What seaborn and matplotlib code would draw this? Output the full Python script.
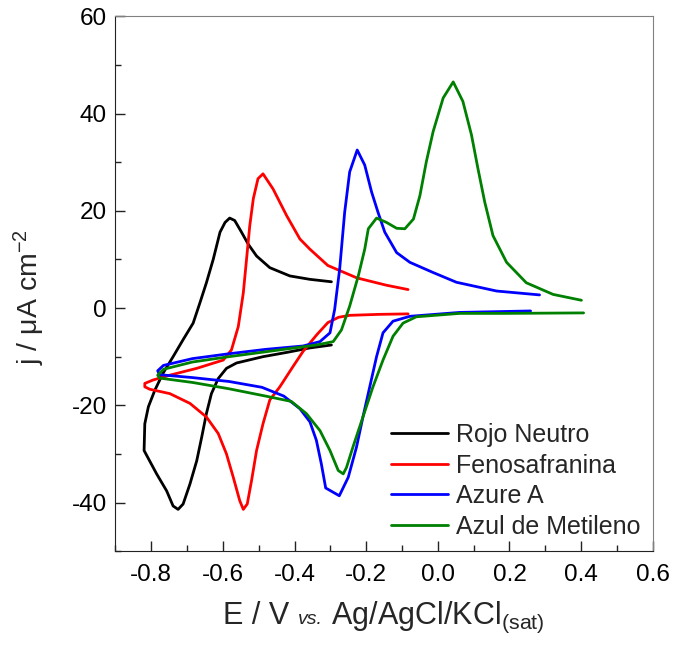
import matplotlib
matplotlib.use('Agg')
import matplotlib.pyplot as plt
from matplotlib.ticker import MultipleLocator, AutoMinorLocator
from matplotlib.offsetbox import TextArea, HPacker, AnchoredOffsetbox
import seaborn as sns

rojo_E = [-0.297, -0.357, -0.42, -0.488, -0.562, -0.590, -0.613, -0.632, -0.646, -0.659,
          -0.673, -0.692, -0.711, -0.725, -0.739, -0.757, -0.785, -0.820, -0.818, -0.808,
          -0.790, -0.767, -0.739, -0.711, -0.683, -0.664, -0.646, -0.627, -0.608, -0.594,
          -0.581, -0.567, -0.548, -0.529, -0.506, -0.469, -0.413, -0.357, -0.297]
rojo_j = [-7.6, -8.2, -9.1, -10.0, -11.3, -12.4, -14.5, -17.6, -21.7, -26.5,
          -31.4, -36.2, -40.3, -41.4, -40.7, -37.6, -34.1, -29.3, -23.8, -20.3,
          -16.9, -13.4, -10.0, -6.5, -3.1, 1.1, 5.2, 10.0, 15.6, 17.6,
          18.5, 18.0, 15.6, 13.1, 10.7, 8.3, 6.6, 5.9, 5.4]

feno_E = [-0.083, -0.164, -0.246, -0.277, -0.307, -0.338, -0.376, -0.404, -0.441, -0.469,
          -0.488, -0.506, -0.520, -0.532, -0.543, -0.553, -0.571, -0.590, -0.613, -0.646,
          -0.692, -0.748, -0.804, -0.818, -0.818, -0.795, -0.748, -0.673, -0.599, -0.576,
          -0.557, -0.543, -0.534, -0.525, -0.515, -0.502, -0.488, -0.460, -0.422, -0.385,
          -0.357, -0.307, -0.226, -0.144, -0.083]
feno_j = [-1.2, -1.3, -1.5, -1.9, -3.0, -5.5, -8.9, -12.0, -16.2, -18.9,
          -23.8, -29.3, -35.5, -40.3, -41.4, -39.6, -34.8, -30.0, -25.8, -22.4,
          -19.6, -17.6, -16.7, -16.2, -15.5, -14.8, -13.8, -12.4, -10.7, -8.6,
          -3.8, 3.1, 10.0, 16.9, 22.5, 26.6, 27.6, 24.5, 19.0, 14.2,
          12.1, 8.75, 6.2, 4.7, 3.8]

azure_E = [0.259, 0.061, -0.078, -0.125, -0.153, -0.171, -0.190, -0.209, -0.227, -0.250,
           -0.275, -0.313, -0.325, -0.339, -0.357, -0.385, -0.430, -0.491, -0.583, -0.685,
           -0.777, -0.782, -0.766, -0.685, -0.583, -0.481, -0.376, -0.329, -0.301, -0.288,
           -0.274, -0.260, -0.246, -0.225, -0.204, -0.185, -0.167, -0.148, -0.115, -0.078,
           -0.013, 0.052, 0.164, 0.284]
azure_j = [-0.6, -0.9, -1.7, -2.7, -5.1, -10.0, -16.2, -22.4, -28.6, -34.8,
           -38.6, -37.0, -32.1, -27.2, -23.4, -20.7, -18.1, -16.3, -15.1, -14.3,
           -13.7, -12.9, -11.8, -10.4, -9.4, -8.5, -7.8, -6.9, -5.1, -0.3,
           8.0, 19.7, 28.0, 32.5, 29.4, 23.9, 19.7, 15.6, 11.4, 9.4,
           7.3, 5.3, 3.5, 2.7]

metileno_E = [0.407, 0.183, 0.061, -0.060, -0.097, -0.125, -0.153, -0.181, -0.209, -0.237,
              -0.255, -0.264, -0.278, -0.301, -0.329, -0.367, -0.409, -0.481, -0.583, -0.685,
              -0.777, -0.782, -0.766, -0.685, -0.583, -0.481, -0.339, -0.292, -0.269, -0.246,
              -0.222, -0.204, -0.194, -0.171, -0.143, -0.115, -0.092, -0.068, -0.050, -0.032,
              -0.013, 0.015, 0.043, 0.070, 0.094, 0.112, 0.131, 0.154, 0.192, 0.247,
              0.322, 0.401]
metileno_j = [-1.0, -1.1, -1.1, -1.8, -3.1, -5.8, -10.7, -16.2, -22.4, -28.6,
              -32.8, -34.1, -33.4, -29.3, -25.2, -21.7, -19.2, -18.1, -16.6, -15.3,
              -14.4, -13.8, -12.6, -11.1, -10.0, -9.0, -7.6, -6.9, -4.5, 0.4,
              6.6, 12.1, 16.3, 18.5, 17.6, 16.4, 16.3, 18.3, 23.1, 30.1,
              36.3, 43.2, 46.5, 42.5, 35.6, 28.7, 21.8, 14.9, 9.4, 5.2,
              2.8, 1.6]

nombres = ['Rojo Neutro', 'Fenosafranina', 'Azure A', 'Azul de Metileno']
colores = ['black', '#ff0000', '#0000ff', '#008000']

# ─── ESTILO ───────────────────────────────────────────────────
sns.set_style('ticks')
plt.rcParams['font.family'] = ['Liberation Sans', 'DejaVu Sans']
plt.rcParams['mathtext.fontset'] = 'custom'
plt.rcParams['mathtext.rm'] = 'Liberation Sans'
plt.rcParams['mathtext.it'] = 'Liberation Sans:italic'
plt.rcParams['axes.unicode_minus'] = False

fig = plt.figure(figsize=(6.75, 6.5), dpi=100)
ax = fig.add_axes([0.171, 0.152, 0.796, 0.823])

curvas = [(rojo_E, rojo_j), (feno_E, feno_j), (azure_E, azure_j), (metileno_E, metileno_j)]
for (E, j), nombre, c in zip(curvas, nombres, colores):
    sns.lineplot(x=E, y=j, sort=False, estimator=None, color=c, lw=2.0,
                 label=nombre, ax=ax)

ax.set_xlim(-0.9, 0.6)
ax.set_ylim(-50, 60)
ax.xaxis.set_major_locator(MultipleLocator(0.2))
ax.xaxis.set_minor_locator(AutoMinorLocator(2))
ax.yaxis.set_major_locator(MultipleLocator(20))
ax.yaxis.set_minor_locator(AutoMinorLocator(2))
ax.xaxis.set_major_formatter(plt.FuncFormatter(lambda v, _: f'{v:.1f}'))
ax.tick_params(which='both', direction='in', top=False, right=False, colors='#222222',
               labelcolor='black')
ax.tick_params(which='major', length=7, width=1)
ax.tick_params(which='minor', length=4, width=1)
ax.tick_params(axis='x', labelsize=17.5, pad=9)
ax.tick_params(axis='y', labelsize=17.5, pad=6)

for s in ['left', 'bottom']:
    ax.spines[s].set_color('#222222')
for s in ['top', 'right']:
    ax.spines[s].set_color('#808080')

# Etiqueta X con "vs." más pequeño en cursiva
partes = [TextArea('E / V ', textprops=dict(fontsize=22)),
          TextArea('vs.', textprops=dict(fontsize=14, style='italic')),
          TextArea(' Ag/AgCl/KCl$_{\\mathrm{(sat)}}$', textprops=dict(fontsize=22))]
caja = HPacker(children=partes, align='baseline', pad=0, sep=0)
etiqueta_x = AnchoredOffsetbox(loc='upper center', child=caja, pad=0, borderpad=0,
                               frameon=False, bbox_to_anchor=(0.569, 0.077),
                               bbox_transform=fig.transFigure)
ax.add_artist(etiqueta_x)

ax.set_ylabel(r'j / μA cm$^{-2}$', fontsize=20.5, labelpad=2)
ax.yaxis.set_label_coords(-0.128, 0.475)

ax.legend(loc='lower right', frameon=False, fontsize=18, handlelength=2.3,
          handletextpad=0.3, labelspacing=0.26, borderaxespad=0.15, borderpad=0.35)

plt.savefig('out.png', dpi=100)
plt.close()
